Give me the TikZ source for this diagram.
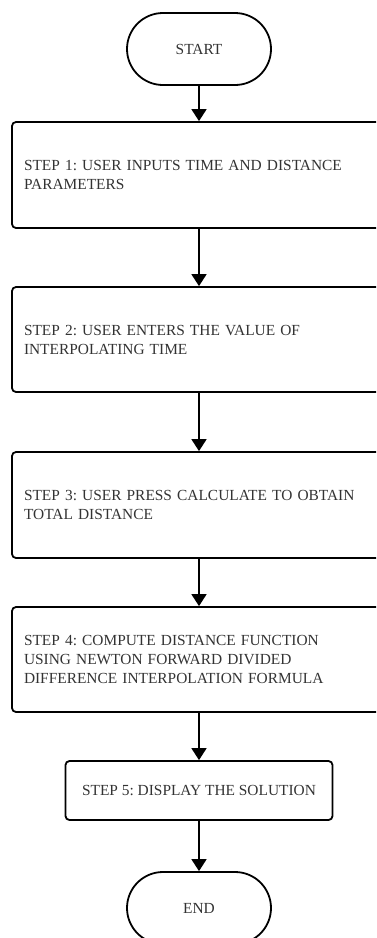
\documentclass[tikz,border=0pt]{standalone}
\usepackage{fontspec}
\setmainfont{Liberation Serif}
\usetikzlibrary{arrows.meta}
\definecolor{txt}{HTML}{333333}
\begin{document}
\frenchspacing
\begin{tikzpicture}[x=1pt,y=-1pt,
  every node/.style={text=txt,font=\frenchspacing\fontsize{15.4}{19}\selectfont},
  term/.style={draw=black,line width=1.8pt,rounded corners=36pt,minimum width=144pt,minimum height=72pt,inner sep=0pt},
  stepbox/.style={draw=black,line width=1.8pt,rounded corners=4pt,minimum width=374pt,text width=350pt,inner xsep=12pt,inner ysep=0pt,align=left},
  smallbox/.style={draw=black,line width=1.8pt,rounded corners=4pt,minimum width=267pt,minimum height=59pt,inner sep=0pt,align=center},
  flow/.style={line width=1.8pt,-{Triangle[length=12pt,width=15pt]}}]
\useasboundingbox (0,0) rectangle (376,938);
\clip (0,0) rectangle (376,938);
\node[term] (start) at (199,49) {START};
\node[stepbox,minimum height=106pt] (s1) at (199,175) {STEP 1: USER INPUTS TIME AND DISTANCE\\PARAMETERS};
\node[stepbox,minimum height=105pt] (s2) at (199,339.5) {STEP 2: USER ENTERS THE VALUE OF\\INTERPOLATING TIME};
\node[stepbox,minimum height=106pt] (s3) at (199,505) {STEP 3: USER PRESS CALCULATE TO OBTAIN\\TOTAL DISTANCE};
\node[stepbox,minimum height=105pt] (s4) at (199,659.5) {STEP 4: COMPUTE DISTANCE FUNCTION\\USING NEWTON FORWARD DIVIDED\\DIFFERENCE INTERPOLATION FORMULA};
\node[smallbox] (s5) at (199,790.5) {STEP 5: DISPLAY THE SOLUTION};
\node[term] (end) at (199,908) {END};
\draw[flow] (start) -- (s1);
\draw[flow] (s1) -- (s2);
\draw[flow] (s2) -- (s3);
\draw[flow] (s3) -- (s4);
\draw[flow] (s4) -- (s5);
\draw[flow] (s5) -- (end);
\end{tikzpicture}
\end{document}
